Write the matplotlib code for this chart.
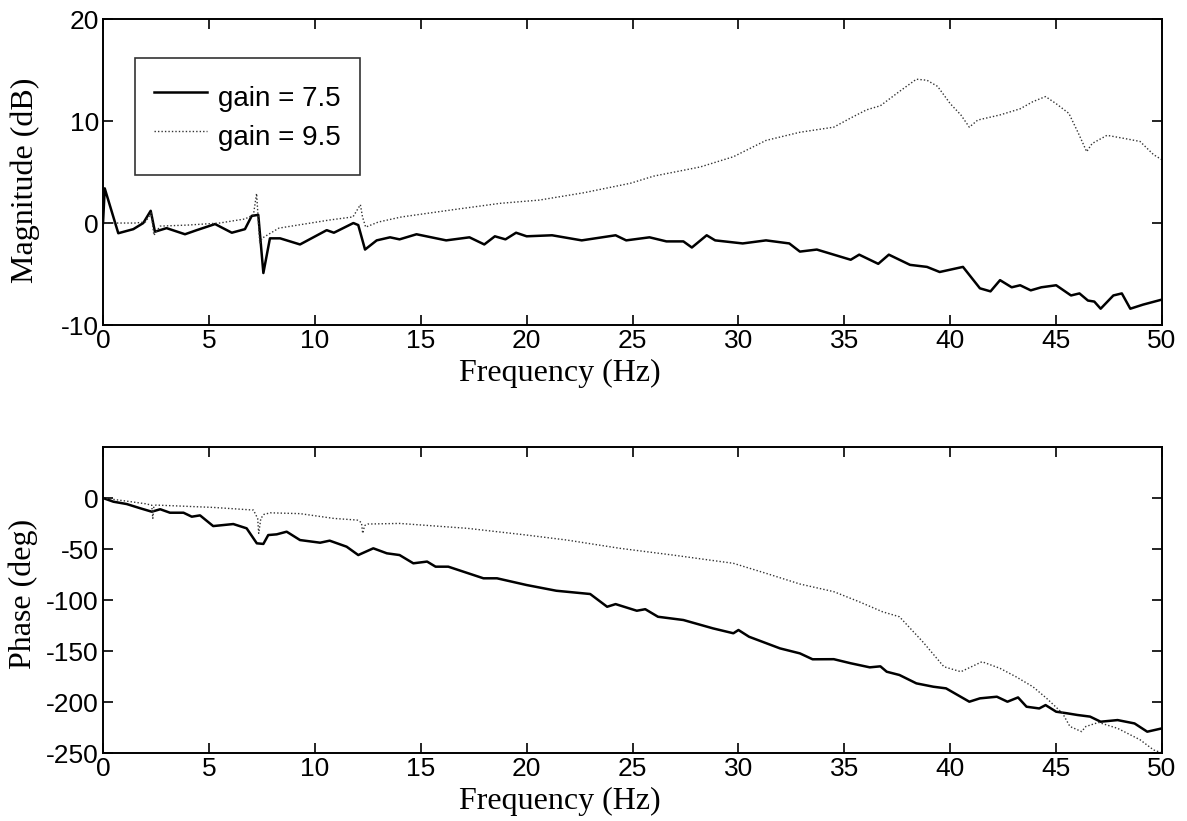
import matplotlib

matplotlib.use("Agg")

import matplotlib.pyplot as plt

# magnitude, gain = 7.5 (solid)
mag_f_75 = [0, 0.08, 0.72, 1.43, 1.9, 2.25, 2.45, 3.0, 3.87, 4.42, 5.29, 6.08, 6.7, 7.02, 7.33, 7.57,
            7.88, 8.36, 9.3, 9.93, 10.56, 10.9, 11.82, 12.05, 12.37, 12.92, 13.55, 14.0, 14.8, 16.2,
            17.3, 18.0, 18.5, 19.0, 19.5, 20.0, 21.2, 22.6, 24.2, 24.7, 25.8, 26.6, 27.4, 27.8, 28.5,
            28.9, 30.2, 31.3, 32.4, 32.9, 33.7, 34.5, 35.3, 35.7, 36.6, 37.1, 38.1, 38.9, 39.5, 40.6,
            41.4, 41.9, 42.35, 42.9, 43.3, 43.8, 44.3, 45.0, 45.7, 46.1, 46.5, 46.8, 47.1, 47.7, 48.1,
            48.5, 49.1, 50.0]
mag_75 = [0, 3.4, -1.0, -0.6, 0.0, 1.2, -0.85, -0.5, -1.1, -0.7, -0.1, -0.95, -0.6, 0.7, 0.8, -4.9,
          -1.5, -1.5, -2.1, -1.4, -0.7, -0.95, 0.0, -0.2, -2.6, -1.7, -1.4, -1.6, -1.1, -1.7,
          -1.4, -2.1, -1.3, -1.6, -0.95, -1.3, -1.2, -1.7, -1.2, -1.7, -1.4, -1.8, -1.8, -2.4, -1.2,
          -1.7, -2.0, -1.7, -2.0, -2.8, -2.6, -3.1, -3.6, -3.1, -4.0, -3.1, -4.1, -4.3, -4.8, -4.3,
          -6.4, -6.7, -5.6, -6.3, -6.1, -6.6, -6.3, -6.1, -7.1, -6.9, -7.6, -7.7, -8.4, -7.1, -6.9,
          -8.4, -8.0, -7.5]

# magnitude, gain = 9.5 (dotted)
mag_f_95 = [0, 0.6, 1.5, 2.0, 2.28, 2.4, 2.7, 4.0, 5.5, 6.7, 7.1, 7.25, 7.4, 7.5, 8.3, 9.5, 10.7,
            11.8, 12.15, 12.25, 12.4, 13.0, 14.1, 16.4, 18.74, 20.6, 22.7, 24.9, 26.0, 28.2, 29.76,
            31.3, 32.9, 34.5, 35.3, 36.05, 36.7, 37.6, 38.4, 38.9, 39.4, 40.0, 40.5, 40.9, 41.3,
            42.35, 43.3, 43.9, 44.5, 45.0, 45.6, 46.05, 46.44, 46.7, 47.4, 48.2, 48.96, 49.6, 50.0]
mag_95 = [0, 0, 0, 0.1, 1.0, -1.2, -0.3, -0.2, 0.0, 0.4, 0.8, 2.9, -2.0, -1.5, -0.5, -0.1, 0.3,
          0.6, 1.8, 0.6, -0.4, 0.1, 0.6, 1.27, 1.93, 2.25, 2.97, 3.9, 4.6, 5.5, 6.5,
          8.1, 8.9, 9.4, 10.3, 11.1, 11.5, 12.9, 14.1, 14.0, 13.4, 11.7, 10.6, 9.4, 10.1,
          10.6, 11.2, 11.9, 12.4, 11.7, 10.75, 8.8, 7.0, 7.8, 8.6, 8.3, 8.0, 6.7, 6.2]

# phase, gain = 7.5 (solid)
ph_f_75 = [0, 0.49, 1.12, 1.75, 2.3, 2.7, 3.16, 3.8, 4.19, 4.58, 5.2, 6.15, 6.78, 7.26, 7.57, 7.8,
           8.2, 8.67, 9.3, 10.25, 10.7, 11.5, 12.05, 12.76, 13.4, 14.0, 14.65, 15.3, 15.7, 16.3,
           17.96, 18.6, 20.0, 21.4, 23.0, 23.8, 24.2, 25.2, 25.6, 26.2, 27.4, 28.8, 29.76, 30.0,
           30.5, 31.96, 32.9, 33.5, 34.5, 35.3, 36.2, 36.7, 37.0, 37.6, 38.4, 39.2, 39.8, 40.9,
           41.4, 42.2, 42.7, 43.2, 43.6, 44.2, 44.5, 45.0, 45.5, 46.0, 46.6, 47.1, 47.9, 48.7,
           49.3, 50.0]
ph_75 = [0, -3.6, -5.9, -10, -13.4, -11, -14.4, -14.4, -18.3, -17, -27.5, -25.5, -29.7, -44.4, -45,
         -36.3, -35.6, -33, -41.2, -43.8, -41.8, -47.7, -55.9, -49.3, -54.2, -55.9, -64, -62.3,
         -67.3, -67.3, -78.7, -78.7, -85.3, -90.9, -94.1, -106.6, -104, -110.5, -109, -116.4,
         -119.6, -127.8, -132.6, -129.4, -136, -147.4, -152.3, -158.1, -158, -162, -166, -165,
         -170.3, -173.5, -181.7, -185, -186.6, -199.7, -196.4, -194.8, -199.7, -195.5, -204.6,
         -206.3, -203, -209.5, -211, -212.7, -214.3, -219.3, -217.7, -221, -229.1, -225.8]

# phase, gain = 9.5 (dotted)
ph_f_95 = [0, 1.1, 2.0, 2.3, 2.35, 2.4, 2.5, 3.8, 5.2, 7.1, 7.3, 7.35, 7.45, 7.6, 7.9, 9.3, 10.9,
           12.0, 12.2, 12.26, 12.35, 12.5, 14.0, 17.2, 20.0, 21.9, 24.4, 26.9, 29.76, 31.3, 32.9,
           34.5, 35.7, 36.8, 37.6, 38.7, 39.7, 40.5, 41.5, 42.35, 43.1, 43.9, 44.55, 45.3, 45.65,
           46.2, 46.4, 47.0, 47.9, 48.96, 49.6, 50.0]
ph_95 = [0, -3, -5.6, -7, -20, -8, -6.9, -8, -9.2, -11.8, -20, -34.6, -20, -16, -14.5, -15.3, -20,
         -21.6, -24, -34.6, -27, -25.5, -24.9, -29.7, -36.3, -41.2, -49.3, -55.9, -64, -73.8, -84.3,
         -91.8, -101.7, -111.5, -116.4, -140.9, -165.4, -170.3, -160.5, -167, -175.2, -185, -196.4,
         -211, -224, -229, -224, -220, -225.8, -237, -247, -250]

freq_ticks = list(range(0, 51, 5))
mag_ticks = [-10, 0, 10, 20]
ph_ticks = [-250, -200, -150, -100, -50, 0]

SANS = ["Liberation Sans", "DejaVu Sans"]
SERIF = ["Liberation Serif", "DejaVu Serif"]
plt.rcParams["font.family"] = SANS
plt.rcParams["axes.unicode_minus"] = False


def style_axes(ax):
    ax.tick_params(direction="in", length=7, width=1.2, top=True, right=True,
                   labelsize=19, pad=3)
    for spine in ax.spines.values():
        spine.set_linewidth(1.4)
    ax.set_xlim(0, 50)
    ax.set_xticks(freq_ticks)
    ax.set_xlabel("Frequency (Hz)", family=SERIF, fontsize=23)
    ax.xaxis.set_label_coords(0.4315, -0.112)


fig = plt.figure(figsize=(11.87, 8.21), dpi=100)
ax1 = fig.add_axes([0.0868, 0.6041, 0.8922, 0.3727])
ax2 = fig.add_axes([0.0868, 0.0828, 0.8922, 0.3727])

solid = dict(color="black", linewidth=1.8)
dotted = dict(color="#333333", linewidth=1.0, linestyle=(0, (1, 1.5)))

ax1.plot(mag_f_75, mag_75, label="gain = 7.5", **solid)
ax1.plot(mag_f_95, mag_95, label="gain = 9.5", **dotted)
ax1.set_ylim(-10, 20)
ax1.set_yticks(mag_ticks)
style_axes(ax1)
ax1.set_ylabel("Magnitude (dB)", family=SERIF, fontsize=23)
ax1.yaxis.set_label_coords(-0.0595, 0.474)
leg = ax1.legend(loc="upper left", bbox_to_anchor=(0.030, 0.8725), borderaxespad=0,
                 fontsize=20, frameon=True, fancybox=False, edgecolor="black",
                 borderpad=0.7, labelspacing=0, handleheight=1.78, handlelength=1.9,
                 handletextpad=0.4)
leg.get_frame().set_linewidth(1.2)

ax2.plot(ph_f_75, ph_75, **solid)
ax2.plot(ph_f_95, ph_95, **dotted)
ax2.set_ylim(-250, 50)
ax2.set_yticks(ph_ticks)
style_axes(ax2)
ax2.set_ylabel("Phase (deg)", family=SERIF, fontsize=23)
ax2.yaxis.set_label_coords(-0.0614, 0.52)

fig.savefig("out.png", dpi=100)
